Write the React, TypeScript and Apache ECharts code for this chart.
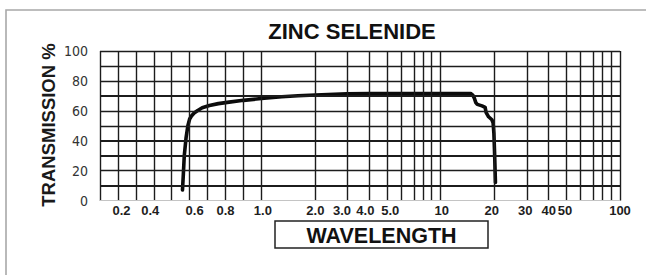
import React, { useEffect, useRef } from "react";
import * as echarts from "echarts";

// ---- data (wavelength in micrometres, transmission in %) ----
const wavelengthUm = [
  0.56, 0.565, 0.57, 0.58, 0.59, 0.6, 0.61, 0.625, 0.645, 0.67, 0.71, 0.76, 0.82, 0.9, 1.0,
  1.3, 1.6, 2.0, 3.0, 4.0, 8.0, 14.7, 15.1, 15.4, 15.7, 16.0, 17.0, 17.7, 17.9, 18.5, 19.3,
  19.6, 19.8, 20.0, 20.2,
];
const transmissionPct = [
  7, 18, 30, 42, 50, 54.5, 56.5, 58.5, 60.2, 62, 63.5, 64.8, 65.8, 67, 68.2,
  69.4, 70.1, 70.6, 71.3, 71.5, 71.6, 71.6, 70.5, 68.5, 65.5, 64.3, 63.3, 62.3, 59, 56, 54,
  52, 45, 30, 12,
];

const xGridValues = [
  0.1, 0.2, 0.3, 0.4, 0.5, 0.6, 0.7, 0.8, 0.9,
  1, 2, 3, 4, 5, 6, 7, 8, 9,
  10, 20, 30, 40, 50, 60, 70, 80, 90, 100,
];
const xLabelValues = [0.2, 0.4, 0.6, 0.8, 1, 2, 3, 4, 5, 10, 20, 30, 40, 50, 100];
const xLabelTexts = ["0.2", "0.4", "0.6", "0.8", "1.0", "2.0", "3.0", "4.0", "5.0", "10", "20", "30", "40", "50", "100"];
const yGridValues = [0, 10, 20, 30, 40, 50, 60, 70, 80, 90, 100];
const yLabelValues = [0, 20, 40, 60, 80, 100];

const titleText = "ZINC SELENIDE";
const yNameText = "TRANSMISSION %";
const xNameText = "WAVELENGTH";

// The chart paper: linear below 1 µm, logarithmic from 1 to 100 µm.
const logPaper = (w: number) => (w < 1 ? w - 1 : Math.log10(w));

// horizontal nudges (px) of printed labels relative to their grid lines, as on the original sheet
const labelNudge = [3.5, -3.5, 5, 0, 1.5, 0, -5, -4, 3.5, 1, -3, -1, 0, -1, 0];

const heavyRows = new Set([70, 40, 30, 10]);
const FONT = '"Liberation Sans", Arial, sans-serif';
const NARROW = '"Liberation Sans Narrow", "DejaVu Sans Condensed", "Liberation Sans", sans-serif';

export default function App() {
  const ref = useRef<HTMLDivElement>(null);
  useEffect(() => {
    if (!ref.current) return;
    const chart = echarts.init(ref.current, undefined, { renderer: "svg" });
    const labelPos = xLabelValues.map(logPaper);
    const rich: Record<string, any> = {};
    labelNudge.forEach((n, i) => {
      rich["l" + i] = {
        color: "#1e1e1e",
        fontSize: 13,
        fontWeight: "bold",
        fontFamily: FONT,
        padding: n >= 0 ? [0, 0, 0, 2 * n] : [0, -2 * n, 0, 0],
      };
    });
    chart.setOption({
      animation: false,
      backgroundColor: "#ffffff",
      grid: { left: 100, right: 26, top: 51, height: 149.5 },
      xAxis: {
        type: "value",
        min: logPaper(0.1),
        max: logPaper(100),
        axisLine: { show: true, lineStyle: { color: "#bdbdbd", width: 1 } },
        axisTick: { show: false },
        splitLine: { show: false },
        axisLabel: {
          customValues: labelPos,
          margin: 3,
          color: "#1e1e1e",
          fontSize: 13,
          fontWeight: "bold",
          fontFamily: FONT,
          rich,
          formatter: (v: number) => {
            const i = labelPos.findIndex((p) => Math.abs(p - v) < 1e-6);
            return i >= 0 ? `{l${i}|${xLabelTexts[i]}}` : "";
          },
        },
      },
      yAxis: {
        type: "value",
        min: 0,
        max: 100,
        interval: 10,
        axisLine: { show: false },
        axisTick: { show: false },
        splitLine: { show: false },
        axisLabel: {
          margin: 12,
          color: "#333",
          fontSize: 14,
          fontFamily: NARROW,
          formatter: (v: number) => (yLabelValues.includes(v) ? String(v) : ""),
        },
      },
      series: [
        {
          type: "line",
          data: [],
          silent: true,
          z: 1,
          markLine: {
            silent: true,
            symbol: ["none", "none"],
            label: { show: false },
            emphasis: { disabled: true },
            data: [
              ...xGridValues.map((g) => ({
                xAxis: logPaper(g),
                lineStyle: { type: "solid", color: "#1c1c1c", width: 1.4 },
              })),
              ...yGridValues.map((t) => ({
                yAxis: t,
                lineStyle: {
                  type: "solid",
                  color: t === 0 ? "#c4c4c4" : "#1c1c1c",
                  width: t === 0 ? 1 : heavyRows.has(t) ? 2.2 : 1.3,
                },
              })),
            ],
          },
        },
        {
          type: "line",
          z: 3,
          silent: true,
          symbol: "none",
          data: wavelengthUm.map((w, i) => [logPaper(w), transmissionPct[i]]),
          lineStyle: { color: "#0b0b0b", width: 3.6, cap: "round", join: "round" },
        },
      ],
      graphic: [
        {
          type: "rect",
          shape: { x: 6, y: 10, width: 700, height: 320 },
          style: { fill: "none", stroke: "#a8a8a8", lineWidth: 1.6 },
          silent: true,
        },
        {
          type: "text",
          x: 352,
          y: 31,
          style: {
            text: titleText,
            fill: "#111",
            fontSize: 22,
            fontWeight: "bold",
            fontFamily: FONT,
            align: "center",
            verticalAlign: "middle",
          },
        },
        {
          type: "text",
          x: 48.5,
          y: 125,
          rotation: Math.PI / 2,
          style: {
            text: yNameText,
            fill: "#1a1a1a",
            fontSize: 18.5,
            fontWeight: "bold",
            fontFamily: FONT,
            align: "center",
            verticalAlign: "middle",
          },
        },
        {
          type: "rect",
          shape: { x: 275, y: 221, width: 213, height: 27 },
          style: { fill: "#fff", stroke: "#222", lineWidth: 1.5 },
        },
        {
          type: "text",
          x: 381.5,
          y: 235.5,
          style: {
            text: xNameText,
            fill: "#111",
            fontSize: 21.5,
            fontWeight: "bold",
            fontFamily: FONT,
            align: "center",
            verticalAlign: "middle",
          },
        },
      ],
    });
    return () => chart.dispose();
  }, []);
  return (
    <div
      ref={ref}
      style={{ position: "absolute", left: 0, top: 0, width: 646, height: 275 }}
    />
  );
}
